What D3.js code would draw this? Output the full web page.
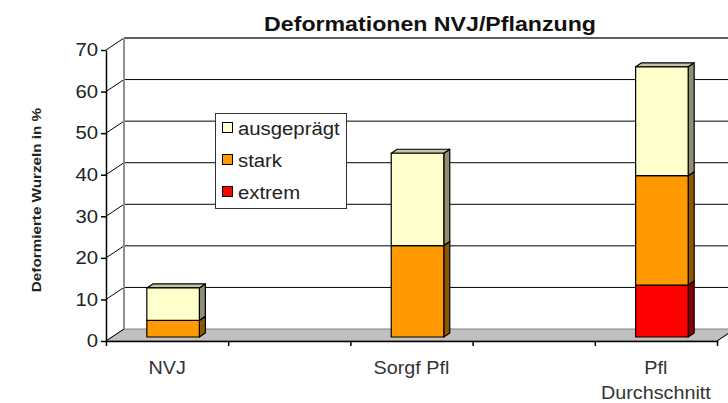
<!DOCTYPE html>
<html>
<head>
<meta charset="utf-8">
<script src="https://cdn.jsdelivr.net/npm/d3@7"></script>
<style>
  html, body { margin: 0; padding: 0; background: #fff; }
  svg { display: block; font-family: "Liberation Sans", Arial, sans-serif; }
</style>
</head>
<body>
<svg id="chart" width="728" height="403"></svg>
<script>
// ---- data ----
const title = "Deformationen NVJ/Pflanzung";
const yTitle = "Deformierte Wurzeln in %";
const categories = ["NVJ", "", "Sorgf Pfl", "", "Pfl Durchschnitt"];
const seriesNames = ["extrem", "stark", "ausgeprägt"];
const extrem     = [0,   null, 0,    null, 12.5];
const stark      = [4,   null, 22,   null, 26.3];
const ausgepraegt= [7.8, null, 22.2, null, 26.2];
const yTicks = [0, 10, 20, 30, 40, 50, 60, 70];
const legendOrder = ["ausgeprägt", "stark", "extrem"];

// ---- styles ----
const colors = {
  "extrem":     {front: "#FF0000", side: "#8A0000", top: "#C80000"},
  "stark":      {front: "#FF9900", side: "#8F5800", top: "#C87800"},
  "ausgeprägt": {front: "#FFFFCC", side: "#8E8E70", top: "#C4C4A0"}
};
const SX = 1.13; // horizontal text stretch

const svg = d3.select("#chart");
const W = 728, H = 403;
const plotLeft = 106, plotRight = 717, plotBottom = 341, plotTop = 50;
const DX = 18, DY = -12;

const y = d3.scaleLinear().domain([0, 70]).range([plotBottom, plotTop]);
const x = d3.scaleBand().domain(d3.range(categories.length)).range([plotLeft, plotRight]).padding(0);
const bw = x.bandwidth();

function stretchedText(g, tx, ty, str, opts) {
  const t = g.append("text")
    .attr("transform", `translate(${tx},${ty}) scale(${opts.sx || SX},1)`)
    .attr("text-anchor", opts.anchor || "start")
    .attr("font-size", opts.size || 18)
    .attr("font-weight", opts.weight || "normal")
    .attr("fill", opts.fill || "#222")
    .text(str);
  return t;
}

// ---- walls ----
const walls = svg.append("g");
walls.append("rect")
  .attr("x", plotLeft + DX).attr("y", y(70) + DY)
  .attr("width", W - plotLeft - DX + 20).attr("height", y(0) - y(70))
  .attr("fill", "#fff");
walls.append("path")
  .attr("d", `M${plotLeft},${y(0)} L${plotLeft},${y(70)} L${plotLeft + DX},${y(70) + DY} L${plotLeft + DX},${y(0) + DY} Z`)
  .attr("fill", "#fff");
walls.append("path")
  .attr("d", `M${plotLeft},${y(0)} L${plotRight},${y(0)} L${plotRight + DX},${y(0) + DY} L${plotLeft + DX},${y(0) + DY} Z`)
  .attr("fill", "#C0C0C0").attr("stroke", "#808080").attr("stroke-width", 1);

const gridVals = yTicks.filter(v => v > 0);
walls.selectAll("line.grid").data(gridVals).join("line")
  .attr("class", "grid")
  .attr("x1", plotLeft + DX).attr("x2", W + 10)
  .attr("y1", d => y(d) + DY).attr("y2", d => y(d) + DY)
  .attr("stroke", d => d === 70 ? "#606060" : "#000")
  .attr("stroke-width", d => d === 70 ? 2 : 1);
walls.selectAll("line.lgrid").data(yTicks).join("line")
  .attr("class", "lgrid")
  .attr("x1", plotLeft).attr("x2", plotLeft + DX)
  .attr("y1", d => y(d)).attr("y2", d => y(d) + DY)
  .attr("stroke", "#000").attr("stroke-width", 1);
walls.append("line")
  .attr("x1", plotLeft + DX).attr("x2", plotLeft + DX)
  .attr("y1", y(70) + DY).attr("y2", y(0) + DY)
  .attr("stroke", "#909090").attr("stroke-width", 2);

// ---- bars ----
const rows = categories.map((c, i) => ({
  i, cat: c,
  "extrem": extrem[i], "stark": stark[i], "ausgeprägt": ausgepraegt[i]
}));
const stack = d3.stack().keys(seriesNames).value((d, k) => d[k] || 0);
const stacked = stack(rows);

const barW = bw * 0.43;
const bdx = DX / 3, bdy = DY / 3;
const barsG = svg.append("g");
rows.forEach((r, i) => {
  if (r["extrem"] == null) return;
  const x0 = x(i) + (bw - barW) / 2 + bdx;
  const x1 = x0 + barW;
  stacked.forEach(layer => {
    const d = layer[i];
    if (d[1] - d[0] <= 0) return;
    const c = colors[layer.key];
    const yb = y(d[0]) + bdy, yt = y(d[1]) + bdy;
    const g = barsG.append("g").attr("stroke", "#000").attr("stroke-width", 1.2).attr("stroke-linejoin", "round");
    g.append("path")
      .attr("d", `M${x1},${yb} L${x1},${yt} L${x1 + bdx},${yt + bdy} L${x1 + bdx},${yb + bdy} Z`)
      .attr("fill", c.side);
    g.append("path")
      .attr("d", `M${x0},${yt} L${x1},${yt} L${x1 + bdx},${yt + bdy} L${x0 + bdx},${yt + bdy} Z`)
      .attr("fill", c.top);
    g.append("rect")
      .attr("x", x0).attr("y", yt).attr("width", barW).attr("height", yb - yt)
      .attr("fill", c.front);
  });
});

// ---- axes ----
const yAxis = svg.append("g")
  .attr("transform", `translate(${plotLeft},0)`)
  .call(d3.axisLeft(y).tickValues(yTicks).tickSize(5).tickPadding(3).tickSizeOuter(0));
yAxis.select(".domain").attr("stroke", "#000").attr("stroke-width", 1.5);
yAxis.selectAll(".tick line").attr("stroke", "#000").attr("stroke-width", 1.5);
yAxis.selectAll(".tick text")
  .attr("font-size", 18).attr("font-family", "Liberation Sans, Arial, sans-serif")
  .attr("fill", "#222")
  .attr("transform", `scale(${SX},1)`)
  .attr("x", -8 / SX);

const xb = d3.scaleLinear().domain([0, categories.length]).range([plotLeft, plotRight]);
const xAxis = svg.append("g")
  .attr("transform", `translate(0,${plotBottom})`)
  .call(d3.axisBottom(xb).ticks(categories.length).tickSize(5).tickFormat("").tickSizeOuter(0));
xAxis.select(".domain").attr("stroke", "#000").attr("stroke-width", 1.5);
xAxis.selectAll(".tick line").attr("stroke", "#000").attr("stroke-width", 1.5);
svg.append("line")
  .attr("x1", plotRight).attr("y1", y(0)).attr("x2", plotRight + DX).attr("y2", y(0) + DY)
  .attr("stroke", "#000").attr("stroke-width", 1);

// category labels
const labG = svg.append("g");
categories.forEach((c, i) => {
  if (!c) return;
  const cx = x(i) + bw / 2;
  const words = c.split(" ");
  let lines = [c];
  const probe = stretchedText(labG, 0, -100, c, {size: 17.5, anchor: "middle"});
  const wpx = probe.node().getComputedTextLength() * SX;
  probe.remove();
  if (wpx > bw * 0.85 && words.length > 1) {
    lines = [words.slice(0, -1).join(" "), words[words.length - 1]];
  }
  lines.forEach((ln, k) => {
    stretchedText(labG, cx, 374 + k * 25, ln, {size: 17.5, anchor: "middle", fill: "#333"});
  });
});

// ---- title ----
stretchedText(svg, 430, 31, title, {size: 20.5, weight: "bold", anchor: "middle", fill: "#111", sx: 1.13});

// ---- y title ----
svg.append("text")
  .attr("transform", `translate(41,200) rotate(-90) scale(1.13,1)`)
  .attr("text-anchor", "middle")
  .attr("font-size", 13.5).attr("font-weight", "bold").attr("fill", "#222")
  .text(yTitle);

// ---- legend ----
const lg = svg.append("g");
lg.append("rect").attr("x", 215.5).attr("y", 113.5).attr("width", 131).attr("height", 95)
  .attr("fill", "#fff").attr("stroke", "#333").attr("stroke-width", 1);
legendOrder.forEach((name, k) => {
  const cy = 127.5 + k * 32;
  lg.append("rect").attr("x", 222.5).attr("y", cy - 5).attr("width", 10).attr("height", 10)
    .attr("fill", colors[name].front).attr("stroke", "#000").attr("stroke-width", 1);
  stretchedText(lg, 238, cy + 7, name, {size: 18, fill: "#222"});
});
</script>
</body>
</html>
